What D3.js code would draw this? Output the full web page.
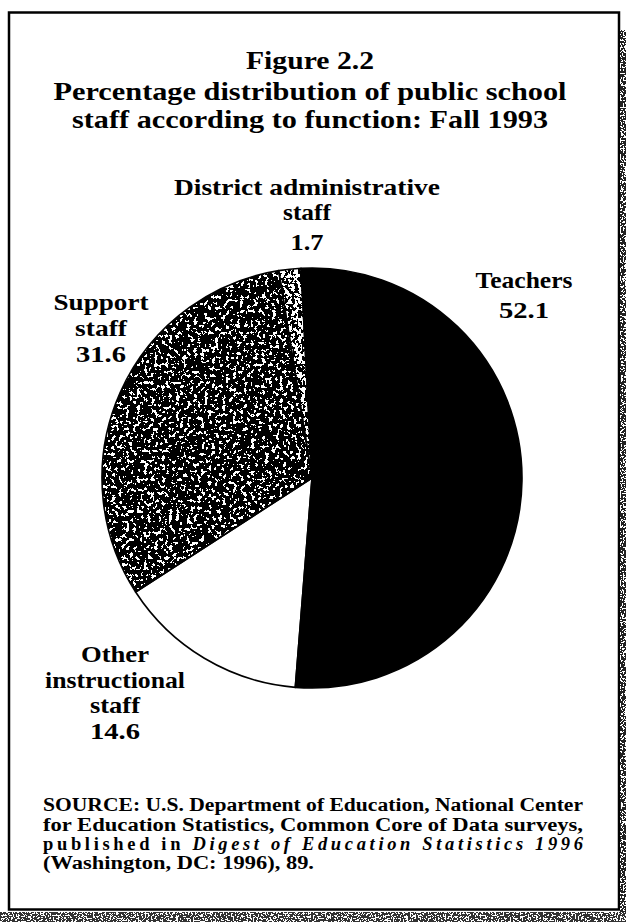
<!DOCTYPE html>
<html>
<head>
<meta charset="utf-8">
<script src="https://cdn.jsdelivr.net/npm/d3@7"></script>
<style>
  body { margin: 0; background: #fff; }
  svg { display: block; }
  text { font-family: "Liberation Serif", "Times New Roman", serif; font-weight: bold; fill: #000; }
</style>
</head>
<body>
<div id="chart"></div>
<script>
/**
 * DATA
 * */
const categories = ["Teachers", "Other instructional staff", "Support staff", "District administrative staff"];
const values = [52.1, 14.6, 31.6, 1.7];
const labelLines = [["Teachers"], ["Other", "instructional", "staff"], ["Support", "staff"], ["District administrative", "staff"]];
const titleLines = ["Figure 2.2", "Percentage distribution of public school", "staff according to function: Fall 1993"];
const sourceLines = [
  "SOURCE: U.S. Department of Education, National Center",
  "for Education Statistics, Common Core of Data surveys,",
  "published in |Digest of Education Statistics 1996",
  "(Washington, DC: 1996), 89."
];

/**
 * CONSTANTS
 * */
const width = 626, height = 922;
const cx = 312, cy = 478, radius = 210;
const startDeg = -3;

// label layout: center x, first baseline, line step, gap before value
const labelLayout = [
  { x: 524, y: 288, step: 28, valueGap: 30, widths: [97], valueW: 50 },
  { x: 115, y: 662, step: 25.5, valueGap: 25.5, widths: [68, 140, 50], valueW: 50 },
  { x: 101, y: 310, step: 26, valueGap: 26, widths: [95, 52], valueW: 50 },
  { x: 307, y: 195, step: 25, valueGap: 30, widths: [266, 48], valueW: 33 }
];

const svg = d3.select("#chart")
  .append("svg")
  .attr("width", width)
  .attr("height", height)
  .attr("viewBox", [0, 0, width, height]);

const defs = svg.append("defs");

// speckled halftone look: threshold the noise alpha into white flecks
function speckle(id, cut, freq, seed) {
  const table = d3.range(20).map(i => i < cut ? 0 : 1).join(" ");
  const f = defs.append("filter")
    .attr("id", id)
    .attr("color-interpolation-filters", "sRGB")
    .attr("filterUnits", "userSpaceOnUse")
    .attr("x", -width).attr("y", -height).attr("width", width * 3).attr("height", height * 3);
  f.append("feTurbulence")
    .attr("type", "fractalNoise")
    .attr("baseFrequency", freq)
    .attr("numOctaves", 4)
    .attr("seed", seed)
    .attr("result", "n");
  const ct = f.append("feComponentTransfer")
    .attr("in", "n")
    .attr("result", "m");
  ["feFuncR", "feFuncG", "feFuncB"].forEach(fn =>
    ct.append(fn).attr("type", "linear").attr("slope", 0).attr("intercept", 1));
  ct.append("feFuncA").attr("type", "discrete").attr("tableValues", table);
  f.append("feComposite")
    .attr("in", "m")
    .attr("in2", "SourceGraphic")
    .attr("operator", "in")
    .attr("result", "w");
  const merge = f.append("feMerge");
  merge.append("feMergeNode").attr("in", "SourceGraphic");
  merge.append("feMergeNode").attr("in", "w");
}
speckle("speckDark", 12, 0.28, 4);
speckle("speckLight", 10, 0.3, 9);
speckle("speckEdge", 11, 0.6, 2);

const sliceFill = ["#000", "#fff", "#000", "#000"];
const sliceFilter = [null, null, "url(#speckDark)", "url(#speckLight)"];

/**
 * PIE
 * */
const a0 = startDeg * Math.PI / 180;
const pie = d3.pie().sort(null).value(d => d).startAngle(a0).endAngle(a0 + 2 * Math.PI);
const arc = d3.arc().innerRadius(0).outerRadius(radius);
const arcs = pie(values);

const g = svg.append("g").attr("transform", `translate(${cx},${cy})`);

g.selectAll("path.fill")
  .data(arcs)
  .join("path")
  .attr("class", "fill")
  .attr("d", arc)
  .attr("fill", (d, i) => sliceFill[i])
  .attr("filter", (d, i) => sliceFilter[i]);

// outlines on top so the edges stay crisp
g.selectAll("path.edge")
  .data(arcs)
  .join("path")
  .attr("class", "edge")
  .attr("d", arc)
  .attr("fill", "none")
  .attr("stroke", "#000")
  .attr("stroke-width", 1.6)
  .attr("stroke-linejoin", "round");

/**
 * TEXT
 * */
function addLine(str, x, y, size, w, anchor) {
  const t = svg.append("text")
    .attr("x", x)
    .attr("y", y)
    .attr("font-size", size)
    .attr("text-anchor", anchor || "middle")
    .text(str);
  if (w) t.attr("textLength", w).attr("lengthAdjust", "spacingAndGlyphs");
  return t;
}

// title
const titleY = [69, 100, 128];
const titleW = [128, 513, 476];
titleLines.forEach((s, i) => addLine(s, 310, titleY[i], 26, titleW[i]));

// slice labels
const fmt = d3.format(".1f");
labelLines.forEach((lines, i) => {
  const L = labelLayout[i];
  lines.forEach((s, j) => addLine(s, L.x, L.y + j * L.step, 24, L.widths[j]));
  const vy = L.y + (lines.length - 1) * L.step + L.valueGap;
  addLine(fmt(values[i]), L.x, vy, 24, L.valueW);
});

// source note
const srcY = [811, 830.5, 850, 868.5];
sourceLines.forEach((s, i) => {
  const t = svg.append("text")
    .attr("x", 43)
    .attr("y", srcY[i])
    .attr("font-size", 18.5);
  const parts = s.split("|");
  t.append("tspan").text(parts[0]);
  if (parts[1]) t.append("tspan").attr("font-style", "italic").text(parts[1]);
  if (i < 3) t.attr("textLength", 540).attr("lengthAdjust", i === 2 ? "spacing" : "spacingAndGlyphs");
  else t.attr("textLength", 271).attr("lengthAdjust", "spacingAndGlyphs");
});

/**
 * FRAME
 * */
svg.append("rect")
  .attr("x", 9).attr("y", 12.5)
  .attr("width", 610).attr("height", 897)
  .attr("fill", "none")
  .attr("stroke", "#000")
  .attr("stroke-width", 2.5);

// scanner noise outside the frame
svg.append("rect")
  .attr("x", 620).attr("y", 30).attr("width", 6).attr("height", 892)
  .attr("fill", "#222").attr("filter", "url(#speckEdge)");
svg.append("rect")
  .attr("x", 0).attr("y", 912).attr("width", 626).attr("height", 10)
  .attr("fill", "#333").attr("filter", "url(#speckEdge)");
</script>
</body>
</html>
